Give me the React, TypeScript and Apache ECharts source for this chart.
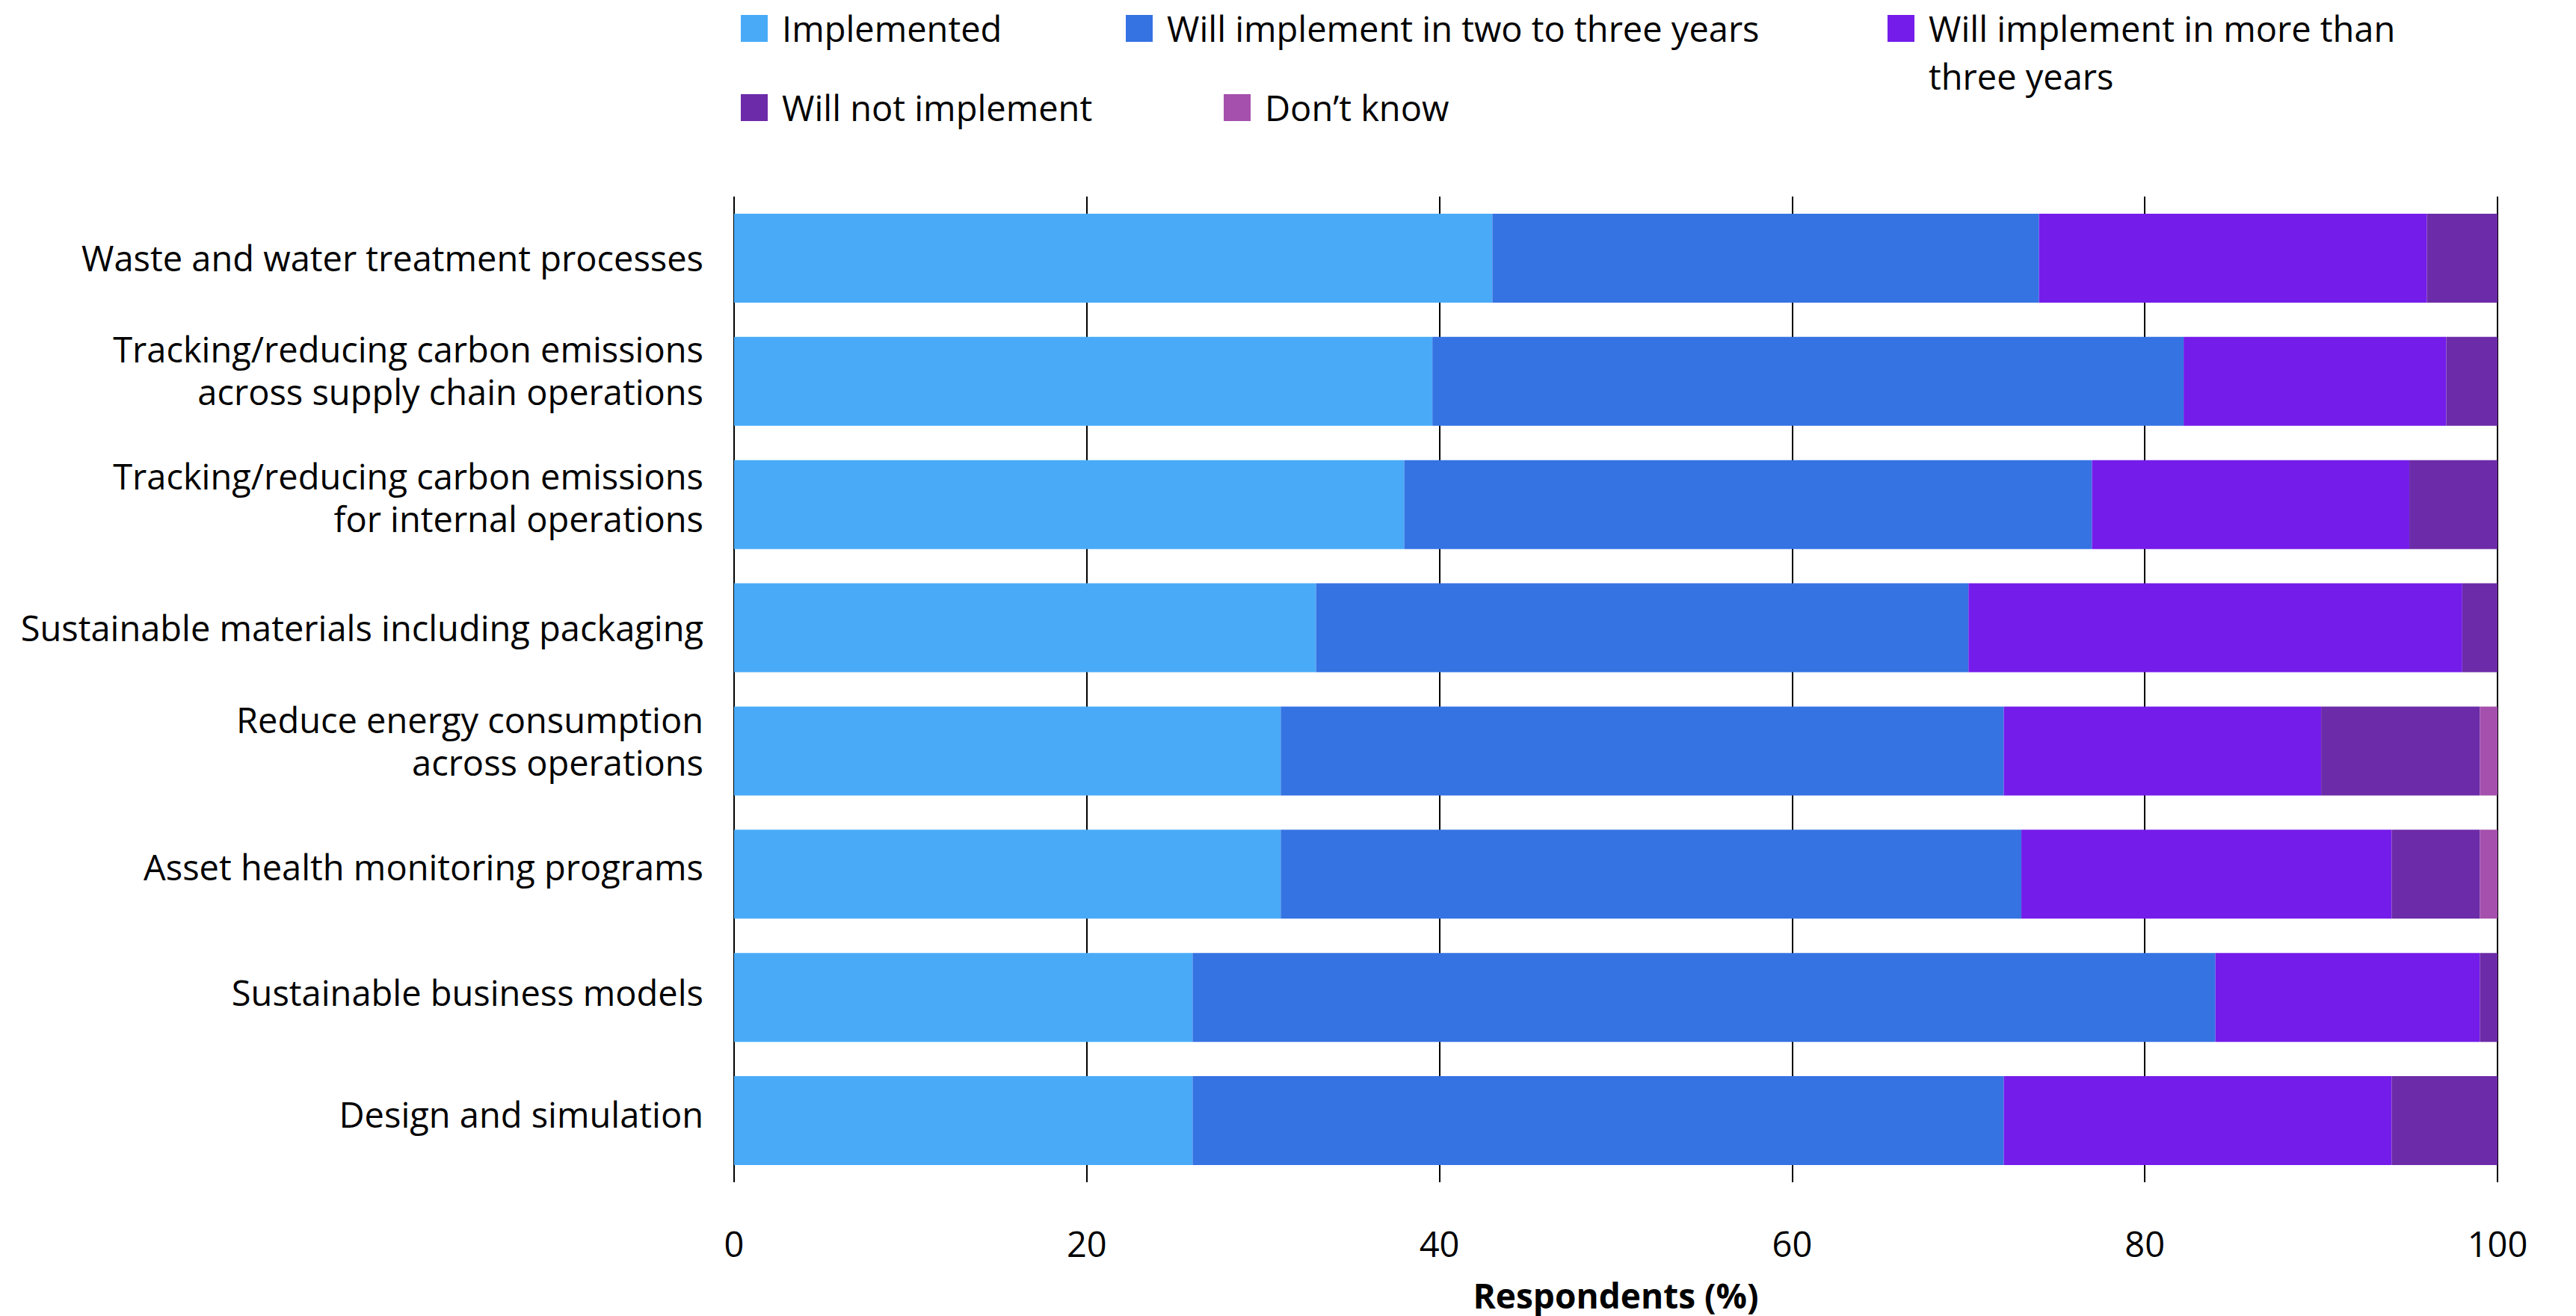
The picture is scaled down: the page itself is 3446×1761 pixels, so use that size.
import React, { useEffect, useRef } from "react";
import * as echarts from "echarts";

const categories = [
  "Waste and water treatment processes",
  "Tracking/reducing carbon emissions\nacross supply chain operations",
  "Tracking/reducing carbon emissions\nfor internal operations",
  "Sustainable materials including packaging",
  "Reduce energy consumption\nacross operations",
  "Asset health monitoring programs",
  "Sustainable business models",
  "Design and simulation",
];

const seriesNames = [
  "Implemented",
  "Will implement in two to three years",
  "Will implement in more than three years",
  "Will not implement",
  "Don\u2019t know",
];

const implemented = [43, 39.6, 38, 33, 31, 31, 26, 26];
const twoToThree = [31, 42.6, 39, 37, 41, 42, 58, 46];
const moreThanThree = [22, 14.9, 18, 28, 18, 21, 15, 22];
const willNot = [4, 2.9, 5, 2, 9, 5, 1, 6];
const dontKnow = [0, 0, 0, 0, 1, 1, 0, 0];

const xTicks = [0, 20, 40, 60, 80, 100];

const colors = ["#49ABF8", "#3573E3", "#741CEA", "#6C2BA8", "#A550AD"];

const FONT = "'Open Sans', 'Noto Sans', sans-serif";

// small per-label vertical nudges (spacer heights) to match the original label placement
const labelSpacer = [0, 30, 20, 0, 26, 20, 13, 18];

export default function App() {
  const ref = useRef<HTMLDivElement>(null);

  useEffect(() => {
    if (!ref.current) return;
    const chart = echarts.init(ref.current, undefined, { renderer: "svg" });
    const values = [implemented, twoToThree, moreThanThree, willNot, dontKnow];

    const legendBase = {
      orient: "horizontal",
      padding: 0,
      icon: "rect",
      itemWidth: 36,
      itemHeight: 36,
      selectedMode: false,
      textStyle: {
        fontFamily: FONT,
        fontSize: 47,
        color: "#000",
        lineHeight: 64,
        padding: [0, 0, 0, 14],
      },
    };

    const rich: Record<string, any> = {
      a: {
        fontFamily: FONT,
        fontSize: 47,
        lineHeight: 57,
        color: "#000",
        align: "right",
      },
    };
    labelSpacer.forEach((h, i) => {
      if (h > 0) rich["s" + i] = { fontSize: 1, lineHeight: h, align: "right" };
    });

    const option = {
      animation: false,
      backgroundColor: "#ffffff",
      textStyle: { fontFamily: FONT },
      legend: [
        { ...legendBase, data: [seriesNames[0]], left: 991, top: 6 },
        { ...legendBase, data: [seriesNames[1]], left: 1506, top: 6 },
        {
          ...legendBase,
          data: [seriesNames[2]],
          left: 2525,
          top: -58,
          formatter: () => "\u00a0\nWill implement in more than\nthree years",
        },
        { ...legendBase, data: [seriesNames[3]], left: 991, top: 112 },
        { ...legendBase, data: [seriesNames[4]], left: 1637, top: 112 },
      ],
      grid: {
        left: 982,
        right: 105,
        top: 263,
        bottom: 178,
        containLabel: false,
      },
      xAxis: {
        type: "value",
        min: 0,
        max: 100,
        interval: 20,
        name: "Respondents (%)",
        nameLocation: "middle",
        nameGap: 133,
        nameTextStyle: {
          fontFamily: FONT,
          fontSize: 46,
          lineHeight: 36,
          fontWeight: "bold",
          color: "#000",
        },
        axisLine: { show: false },
        axisTick: { show: false },
        axisLabel: {
          fontFamily: FONT,
          fontSize: 47,
          color: "#000",
          margin: 58,
          formatter: (v: number) => (xTicks.includes(v) ? String(v) : ""),
        },
        splitLine: {
          show: true,
          lineStyle: { color: "#000", width: 2 },
        },
      },
      yAxis: {
        type: "category",
        data: categories,
        inverse: true,
        axisLine: { show: false },
        axisTick: { show: false },
        axisLabel: {
          fontFamily: FONT,
          fontSize: 47,
          lineHeight: 57,
          color: "#000",
          margin: 41,
          align: "right",
          formatter: (v: string, idx: number) => {
            const body = v
              .split("\n")
              .map((l) => `{a|${l}}`)
              .join("\n");
            return labelSpacer[idx] > 0 ? `${body}\n{s${idx}| }` : body;
          },
          rich,
        },
        splitLine: { show: false },
      },
      series: seriesNames.map((name, i) => ({
        name,
        type: "bar",
        stack: "total",
        barWidth: 119,
        itemStyle: { color: colors[i] },
        emphasis: { disabled: true },
        data: values[i],
      })),
    };

    chart.setOption(option as any);
    return () => chart.dispose();
  }, []);

  return (
    <div
      ref={ref}
      style={{ position: "fixed", left: 0, top: 0, width: 3446, height: 1761 }}
    />
  );
}
